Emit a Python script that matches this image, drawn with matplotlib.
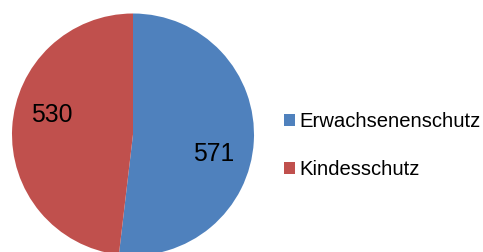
import numpy as np
import matplotlib
matplotlib.use("Agg")
import matplotlib.pyplot as plt

categories = ["Erwachsenenschutz", "Kindesschutz"]
values = [571, 530]
colors = ["#4F81BD", "#C0504D"]

plt.rcParams['font.family'] = ['Liberation Sans', 'DejaVu Sans']

W, H = 483, 252
fig = plt.figure(figsize=(W / 100, H / 100), dpi=100)
ax = fig.add_axes([0, 0, 1, 1])

total = sum(values)
cx, cy, r = 133, H - 134.5, 121
wedges, texts, autotexts = ax.pie(
    values, colors=colors, startangle=90, counterclock=False,
    center=(cx, cy), radius=r,
    autopct=lambda p: f"{round(p * total / 100)}", pctdistance=0.70,
    textprops=dict(fontsize=17.8, color="black"),
    wedgeprops=dict(linewidth=0),
)
# shift labels slightly, as Excel places them
for w, t in zip(wedges, autotexts):
    ang = np.deg2rad((w.theta1 + w.theta2) / 2 - 10.5)
    t.set_position((cx + 0.69 * r * np.cos(ang), cy + 0.69 * r * np.sin(ang)))
    t.set_ha("center")
    t.set_va("center")

ax.set_xlim(0, W)
ax.set_ylim(0, H)
ax.set_aspect("equal")
ax.axis("off")

leg = ax.legend(wedges, categories, loc="center left",
                bbox_to_anchor=(284 / W, 1 - 145.5 / H), frameon=False,
                fontsize=14.6, handlelength=0.55, handleheight=0.55,
                handletextpad=0.22, labelspacing=1.45, borderpad=0,
                borderaxespad=0)

fig.savefig("out.png", dpi=100)
